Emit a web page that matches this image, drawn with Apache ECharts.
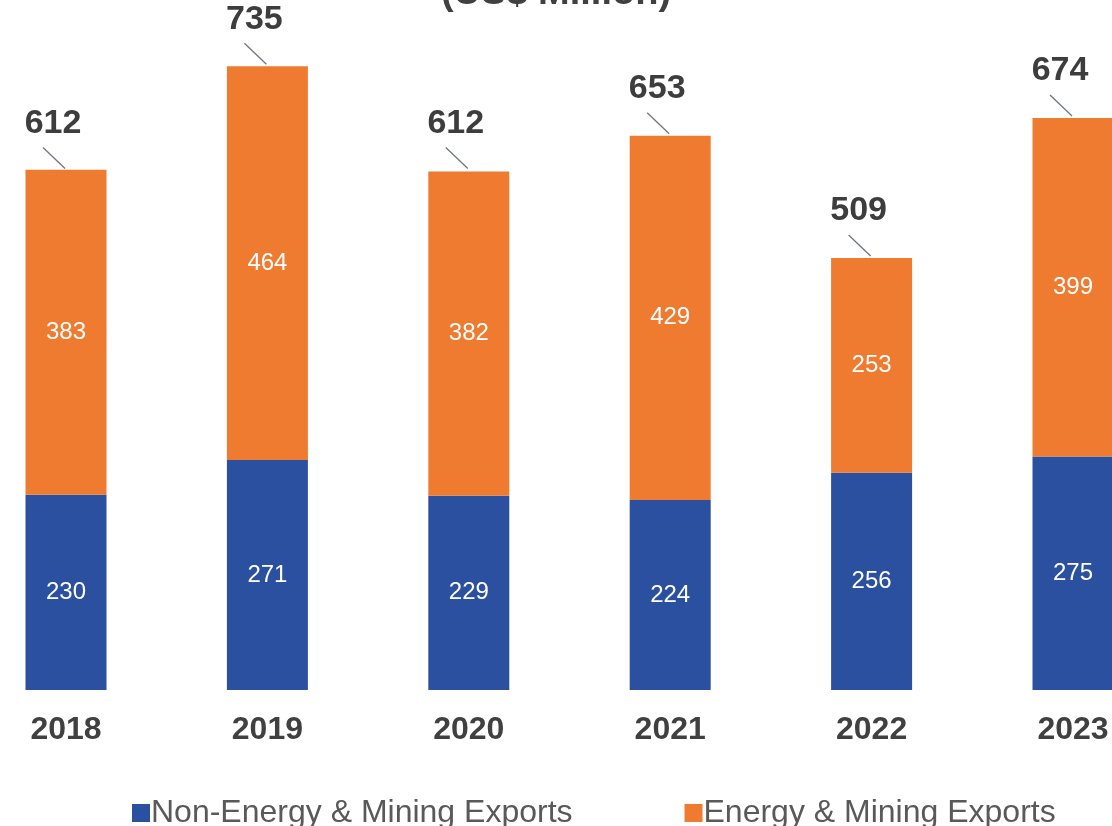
<!DOCTYPE html>
<html>
<head>
<meta charset="utf-8">
<script src="https://cdn.jsdelivr.net/npm/echarts@6/dist/echarts.min.js"></script>
<style>
html,body{margin:0;padding:0;background:#fff;}
#chart{width:1112px;height:826px;}
</style>
</head>
<body>
<div id="chart"></div>
<script>
const years = ['2018', '2019', '2020', '2021', '2022', '2023'];
const nonEnergy = [230, 271, 229, 224, 256, 275];
const energy = [383, 464, 382, 429, 253, 399];
const totals = [612, 735, 612, 653, 509, 674];
const seriesNames = ['Non-Energy & Mining Exports', 'Energy & Mining Exports'];
const titleText = '(US$ Million)';

const BLUE = '#2B50A0';
const ORANGE = '#EE7B30';
const FONT = '"Liberation Sans", Arial, sans-serif';

const chart = echarts.init(document.getElementById('chart'), null, {renderer: 'canvas'});

const segLabel = {
  show: true,
  position: 'inside',
  color: '#ffffff',
  fontFamily: FONT,
  fontSize: 24
};

chart.setOption({
  backgroundColor: '#ffffff',
  animation: false,
  graphic: [{
    type: 'text',
    left: 'center',
    top: -25,
    style: {
      text: titleText,
      font: 'bold 38px ' + FONT,
      fill: '#404040'
    }
  }],
  legend: {
    data: seriesNames,
    left: 127,
    top: 792,
    itemWidth: 18,
    itemHeight: 18,
    itemGap: 112,
    icon: 'rect',
    textStyle: {
      fontFamily: FONT,
      fontSize: 32,
      color: '#595959',
      padding: [0, 0, 0, -4]
    }
  },
  grid: {
    left: -34.7,
    width: 1208.4,
    top: 11,
    bottom: 136,
    containLabel: false,
    outerBoundsMode: 'none'
  },
  xAxis: {
    type: 'category',
    data: years,
    axisLine: {show: false},
    axisTick: {show: false},
    axisLabel: {
      margin: 24,
      fontFamily: FONT,
      fontSize: 32,
      fontWeight: 'bold',
      color: '#404040'
    }
  },
  yAxis: {
    type: 'value',
    min: 0,
    max: 800,
    show: false,
    splitLine: {show: false}
  },
  series: [
    {
      name: seriesNames[0],
      type: 'bar',
      stack: 'total',
      barWidth: 81,
      itemStyle: {color: BLUE},
      label: segLabel,
      data: nonEnergy
    },
    {
      name: seriesNames[1],
      type: 'bar',
      stack: 'total',
      barWidth: 81,
      itemStyle: {color: ORANGE},
      label: segLabel,
      data: energy
    },
    {
      name: 'Total',
      type: 'custom',
      data: totals.map((v, i) => [i, v]),
      encode: {x: 0, y: 1},
      z: 10,
      renderItem: function (params, api) {
        const p = api.coord([api.value(0), api.value(1)]);
        return {
          type: 'group',
          children: [
            {
              type: 'line',
              shape: {x1: p[0] - 23, y1: p[1] - 23, x2: p[0] - 1, y2: p[1] - 2},
              style: {stroke: '#6f7680', lineWidth: 1.3}
            },
            {
              type: 'text',
              style: {
                text: String(api.value(1)),
                x: p[0] - 13,
                y: p[1] - 47,
                align: 'center',
                verticalAlign: 'middle',
                font: 'bold 34px ' + FONT,
                fill: '#3d3d3d'
              }
            }
          ]
        };
      }
    }
  ]
});
</script>
</body>
</html>
